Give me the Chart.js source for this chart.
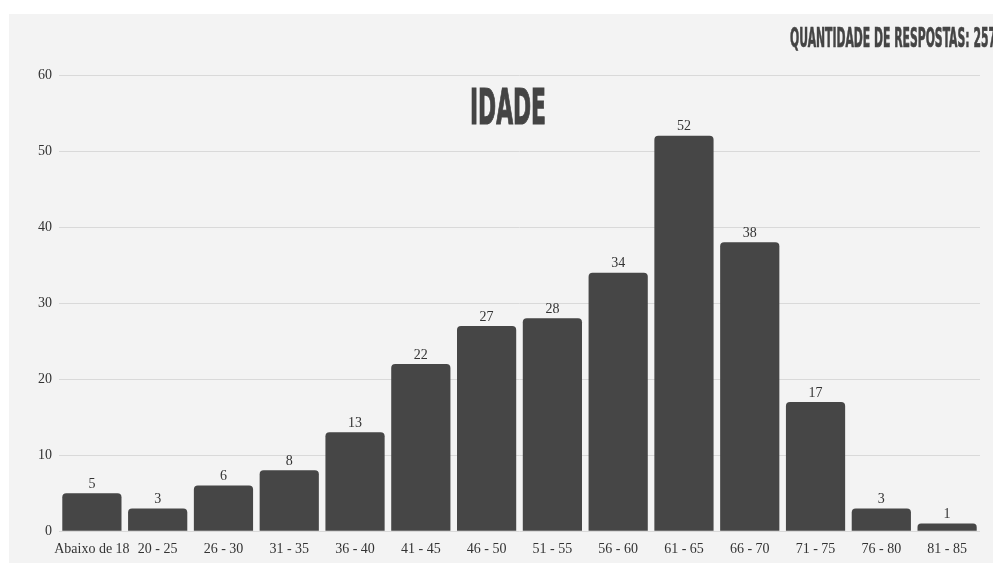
<!DOCTYPE html>
<html>
<head>
<meta charset="utf-8">
<script src="https://cdn.jsdelivr.net/npm/chart.js@4/dist/chart.umd.min.js"></script>
<style>
    html, body { margin: 0; padding: 0; background: #ffffff; }
    #painel {
        position: absolute; left: 9px; top: 14px;
        width: 984px; height: 549px;
        background: #f3f3f3; overflow: hidden;
    }
    #grafico { position: absolute; left: 0; top: 0; }
    .cabecalho {
        position: absolute; margin: 0; white-space: nowrap;
        font-family: "DejaVu Sans Condensed", "DejaVu Sans", sans-serif;
        font-weight: bold; color: #444444; line-height: 1;
        transform-origin: left top;
        -webkit-text-stroke: 1.2px #444444;
    }
    #respostas { -webkit-text-stroke: 0.7px #444444; }
</style>
</head>
<body>
<div id="painel">
    <canvas id="grafico" width="984" height="549"></canvas>
    <div id="titulo" class="cabecalho">IDADE</div>
    <div id="respostas" class="cabecalho">QUANTIDADE DE RESPOSTAS: 257</div>
</div>
<script>
// Faixas etárias e número de respostas
const faixas = ["Abaixo de 18", "20 - 25", "26 - 30", "31 - 35", "36 - 40", "41 - 45", "46 - 50",
    "51 - 55", "56 - 60", "61 - 65", "66 - 70", "71 - 75", "76 - 80", "81 - 85"];
const respostas = [5, 3, 6, 8, 13, 22, 27, 28, 34, 52, 38, 17, 3, 1];
const marcasY = [0, 10, 20, 30, 40, 50, 60];

const fonteSerif = "'Liberation Serif', 'DejaVu Serif', serif";

// Encaixa o texto condensado numa largura fixa (escala só na horizontal)
function encaixar(id, esquerda, topo, largura, alturaFonte) {
    const el = document.getElementById(id);
    el.style.fontSize = alturaFonte + "px";
    const w = el.getBoundingClientRect().width;
    el.style.left = esquerda + "px";
    el.style.top = topo + "px";
    el.style.transform = `scaleX(${largura / w})`;
}
encaixar("titulo", 461, 68, 76, 50);
encaixar("respostas", 781, 11, 206, 26);

// Plugin simples para escrever o valor em cima de cada barra
const valoresNasBarras = {
    id: "valoresNasBarras",
    afterDatasetsDraw(chart) {
        const ctx = chart.ctx;
        const meta = chart.getDatasetMeta(0);
        ctx.save();
        ctx.font = "14px " + fonteSerif;
        ctx.fillStyle = "#333333";
        ctx.textAlign = "center";
        ctx.textBaseline = "bottom";
        meta.data.forEach((barra, i) => {
            ctx.fillText(respostas[i], barra.x, barra.y - 2);
        });
        ctx.restore();
    }
};

const ctx = document.getElementById("grafico").getContext("2d");
new Chart(ctx, {
    type: "bar",
    data: {
        labels: faixas,
        datasets: [{
            data: respostas,
            backgroundColor: "#464646",
            borderRadius: { topLeft: 4, topRight: 4 },
            borderSkipped: "bottom",
            barPercentage: 0.9,
            categoryPercentage: 1.0
        }]
    },
    options: {
        responsive: false,
        animation: false,
        layout: { padding: { top: 61, right: 13, bottom: 3, left: 0 } },
        plugins: {
            legend: { display: false },
            tooltip: { enabled: false }
        },
        scales: {
            x: {
                grid: { display: false },
                border: { display: false },
                ticks: {
                    color: "#333333",
                    font: { family: fonteSerif, size: 14 },
                    maxRotation: 0,
                    autoSkip: false,
                    padding: 2
                }
            },
            y: {
                min: 0,
                max: 60,
                afterBuildTicks: axis => { axis.ticks = marcasY.map(v => ({ value: v })); },
                afterFit: axis => { axis.width = 50; },
                grid: { color: "#d9d9d9", drawTicks: false },
                border: { display: false },
                ticks: {
                    color: "#333333",
                    font: { family: fonteSerif, size: 14 },
                    padding: 7
                }
            }
        }
    },
    plugins: [valoresNasBarras]
});
</script>
</body>
</html>
